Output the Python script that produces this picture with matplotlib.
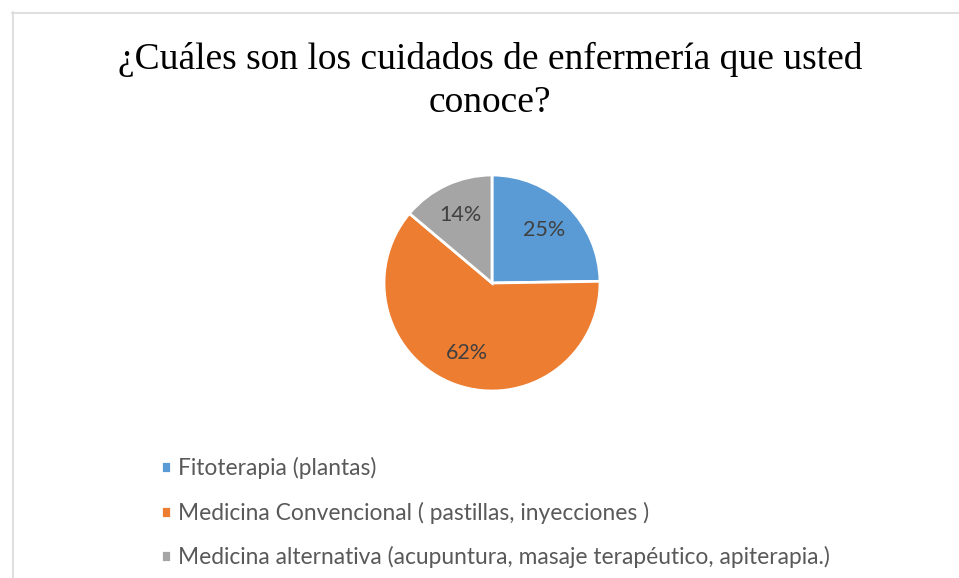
import matplotlib
matplotlib.use("Agg")
import matplotlib.pyplot as plt
from matplotlib.lines import Line2D

TITLE = "¿Cuáles son los cuidados de enfermería que usted\nconoce?"
CATEGORIES = [
    "Fitoterapia (plantas)",
    "Medicina Convencional ( pastillas, inyecciones )",
    "Medicina alternativa (acupuntura, masaje terapéutico, apiterapia.)",
]
VALUES = [25, 62, 14]
PCT_LABELS = ["25%", "62%", "14%"]
COLORS = ["#5b9bd5", "#ed7d31", "#a5a5a5"]

W, H = 959, 578
fig = plt.figure(figsize=(W / 100, H / 100), dpi=100)

# chart-area border (top and left only visible)
fig.add_artist(Line2D([12 / W, 1.0], [1 - 12.5 / H, 1 - 12.5 / H], color="#d9d9d9", lw=1.2))
fig.add_artist(Line2D([12.5 / W, 12.5 / W], [0, 1 - 12 / H], color="#d9d9d9", lw=1.2))

fig.text(490 / W, 1 - 42 / H, TITLE, ha="center", va="top",
         family="Liberation Serif", fontsize=27, color="black", linespacing=1.32)

cx, cy, r = 492, 283, 108
ax = fig.add_axes([(cx - r) / W, (H - cy - r) / H, 2 * r / W, 2 * r / H])
wedges, texts = ax.pie(VALUES, labels=PCT_LABELS, colors=COLORS, startangle=90,
                       counterclock=False, labeldistance=0.69,
                       wedgeprops=dict(edgecolor="white", linewidth=2),
                       textprops=dict(family="Lato", fontsize=15.5, color="#404040",
                                      ha="center", va="center"))
ax.set_xlim(-1, 1)
ax.set_ylim(-1, 1)

fig.legend(wedges, CATEGORIES, loc="upper left",
           bbox_to_anchor=(150 / W, 1 - 446 / H), frameon=False,
           prop=dict(family="Lato", size=16.4), labelcolor="#595959",
           handlelength=0.42, handleheight=0.42, handletextpad=0.3,
           labelspacing=0.98, borderpad=0)

fig.savefig("out.png", dpi=100)
